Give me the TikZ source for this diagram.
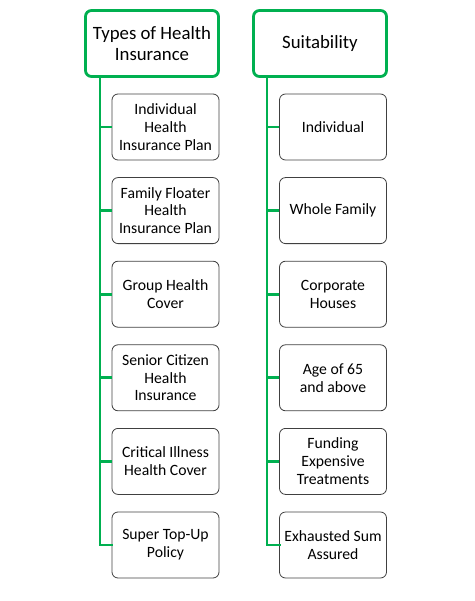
\documentclass[tikz,border=0pt]{standalone}
\usepackage{fontspec}
\setmainfont{Carlito}
\definecolor{hgreen}{RGB}{0,176,80}
\definecolor{bgray}{RGB}{64,64,64}
\begin{document}
\begin{tikzpicture}[x=1pt,y=-1pt,
  header/.style={draw=hgreen,line width=2.8pt,rounded corners=6pt,minimum width=133pt,minimum height=66pt,align=center,font=\fontsize{18.8}{21.5}\selectfont,inner sep=2pt},
  child/.style={draw=bgray,line width=0.8pt,rounded corners=6pt,minimum width=107pt,minimum height=66pt,align=center,font=\fontsize{15.7}{17.8}\selectfont,inner sep=2pt},
  conn/.style={draw=hgreen,line width=2.8pt}]
\useasboundingbox (0,0) rectangle (474,601);
\node[header] (h1) at (152,43.5) {Types of Health\\Insurance};
\node[header] (h2) at (320,43.5) {Suitability};
\foreach \i/\t in {1/{Individual\\Health\\Insurance Plan},2/{Family Floater\\Health\\Insurance Plan},3/{Group Health\\Cover},4/{Senior Citizen\\Health\\Insurance},5/{Critical Illness\\Health Cover},6/{Super Top-Up\\Policy}}{
  \node[child] (a\i) at (165.5,{127+83.6*(\i-1)}) {\t};
}
\foreach \i/\t in {1/{Individual},2/{Whole Family},3/{Corporate\\Houses},4/{Age of 65\\and above},5/{Funding\\Expensive\\Treatments},6/{Exhausted Sum\\Assured}}{
  \node[child] (b\i) at (333,{127+83.6*(\i-1)}) {\t};
}
\coordinate (l0) at (100,0);
\coordinate (r0) at (267,0);
\draw[conn,line cap=rect] (h1.south -| l0) -- (a6.west -| l0) -- (a6.west);
\draw[conn,line cap=rect] (h2.south -| r0) -- (b6.west -| r0) -- (b6.west);
\foreach \i in {1,...,5}{
  \draw[conn] (a\i.west -| l0) -- (a\i.west);
  \draw[conn] (b\i.west -| r0) -- (b\i.west);
}
\end{tikzpicture}
\end{document}
